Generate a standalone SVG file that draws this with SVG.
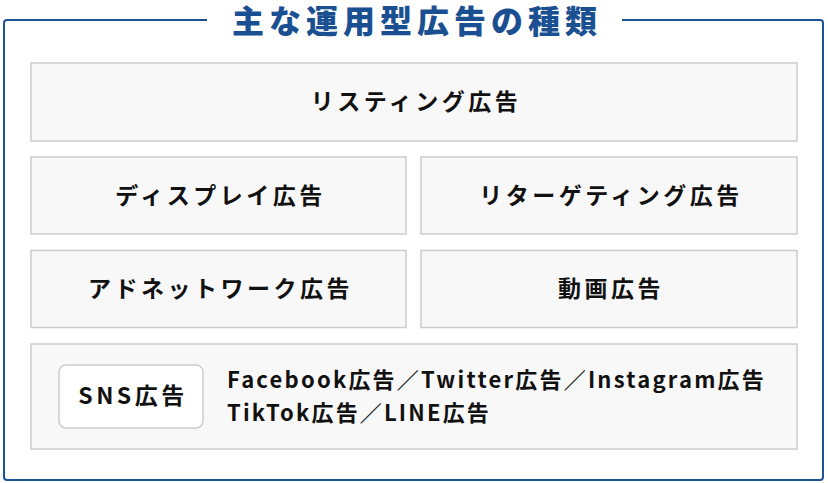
<svg xmlns="http://www.w3.org/2000/svg" width="828" height="483" viewBox="0 0 828 483">
<style>
.box{fill:#f8f8f8;stroke:#cccccc;stroke-width:1.5}
.lbl{font-family:"Noto Sans CJK JP","Noto Sans",sans-serif;font-weight:700;font-size:23px;fill:#111111;letter-spacing:3.5px}
.desc{font-family:"Noto Sans CJK JP","Noto Sans",sans-serif;font-weight:700;font-size:22px;fill:#111111;letter-spacing:2.2px}
.title{font-family:"Noto Sans CJK JP","Noto Sans",sans-serif;font-weight:900;font-size:32px;fill:#1a4f91;letter-spacing:5px}
</style>
<rect width="828" height="483" fill="#ffffff"/>
<g id="frame">
<path d="M207,20 H7 Q4,20 4,23 V477 Q4,480 7,480 H820 Q823,480 823,477 V23 Q823,20 820,20 H622" fill="none" stroke="#1b5396" stroke-width="2"/>
<text class="title" x="417" y="33" text-anchor="middle">主な運用型広告の種類</text>
</g>
<g id="listing">
<rect class="box" x="31" y="63" width="766" height="78"/>
<text class="lbl" x="416" y="110" text-anchor="middle">リスティング広告</text>
</g>
<g id="display">
<rect class="box" x="31" y="157" width="375" height="77"/>
<text class="lbl" x="220.5" y="203.5" text-anchor="middle">ディスプレイ広告</text>
</g>
<g id="retargeting">
<rect class="box" x="421" y="157" width="376" height="77"/>
<text class="lbl" x="611" y="203.5" text-anchor="middle">リターゲティング広告</text>
</g>
<g id="adnetwork">
<rect class="box" x="31" y="250.5" width="375" height="77"/>
<text class="lbl" x="220.5" y="297" text-anchor="middle">アドネットワーク広告</text>
</g>
<g id="video">
<rect class="box" x="421" y="250.5" width="376" height="77"/>
<text class="lbl" x="611" y="297" text-anchor="middle">動画広告</text>
</g>
<g id="sns">
<rect class="box" x="31" y="344" width="766" height="105"/>
<rect x="59" y="365" width="144" height="63" rx="7" fill="#ffffff" stroke="#cccccc" stroke-width="1.5"/>
<text class="lbl" x="133" y="404" text-anchor="middle">SNS広告</text>
<text class="desc" x="227" y="388" textLength="539" lengthAdjust="spacing">Facebook広告／Twitter広告／Instagram広告</text>
<text class="desc" x="227" y="421" textLength="264" lengthAdjust="spacing">TikTok広告／LINE広告</text>
</g>
<g id="connectors"></g>
</svg>
